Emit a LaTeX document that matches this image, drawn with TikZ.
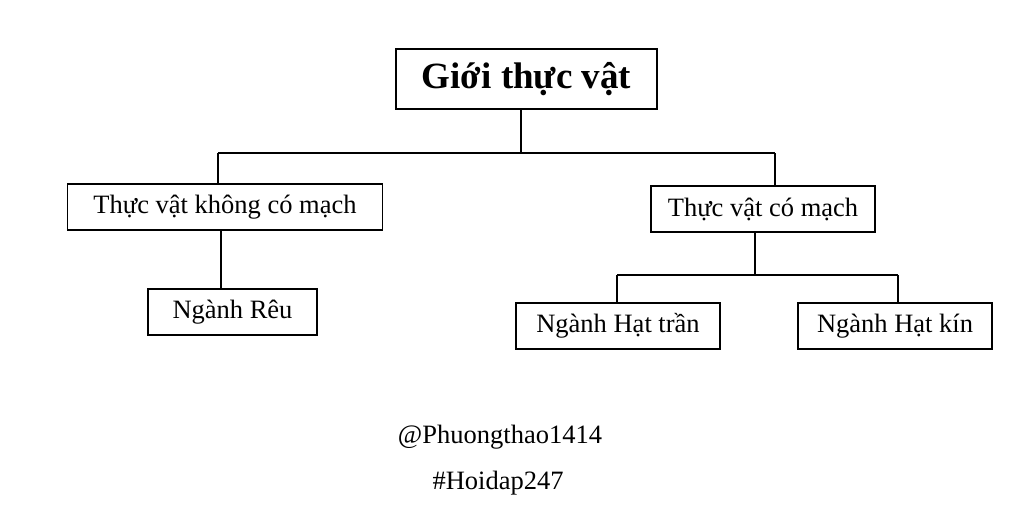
\documentclass[tikz,border=0pt]{standalone}
\usepackage{fontspec}
\setmainfont{Liberation Serif}
\begin{document}
\begin{tikzpicture}[x=1pt,y=-1pt,
  box/.style={draw=black,line width=1.4pt,rectangle,inner sep=0pt,align=center,
    font=\fontsize{26.5}{30}\selectfont},
  rootbox/.style={box,font=\fontsize{37}{42}\selectfont\bfseries},
  link/.style={draw=black,line width=1.4pt},
  tagtext/.style={inner sep=0pt,font=\fontsize{26.5}{30}\selectfont}]
\useasboundingbox (0,0) rectangle (1024,530);
\node[rootbox,minimum width=261pt,minimum height=60pt] (root) at (526.5,79) {Giới thực vật};
\node[box,minimum width=315pt,minimum height=46pt] (A) at (225,207) {Thực vật không có mạch};
\node[box,minimum width=169pt,minimum height=46pt] (reu) at (232.5,312) {Ngành Rêu};
\node[box,minimum width=224pt,minimum height=46pt] (B) at (763,209) {Thực vật có mạch};
\node[box,minimum width=204pt,minimum height=46pt] (tran) at (618,326) {Ngành Hạt trần};
\node[box,minimum width=194pt,minimum height=46pt] (kin) at (895,326) {Ngành Hạt kín};
\node[tagtext] (w1) at (500,437) {@Phuongthao1414};
\node[tagtext] (w2) at (498,483) {\#Hoidap247};
\coordinate (j1) at (521,153);
\coordinate (jl) at (218,153);
\coordinate (jr) at (775,153);
\coordinate (k1) at (755,275);
\coordinate (kl) at (617,275);
\coordinate (kr) at (898,275);
\path[link] (root.south -| j1) -- (j1);
\path[link] (jl) -- (jr);
\path[link] (jl) -- (A.north -| jl);
\path[link] (jr) -- (B.north -| jr);
\path[link] (A.south -| 221,0) -- (reu.north -| 221,0);
\path[link] (B.south -| k1) -- (k1);
\path[link] (kl) -- (kr);
\path[link] (kl) -- (tran.north -| kl);
\path[link] (kr) -- (kin.north -| kr);
\end{tikzpicture}
\end{document}
